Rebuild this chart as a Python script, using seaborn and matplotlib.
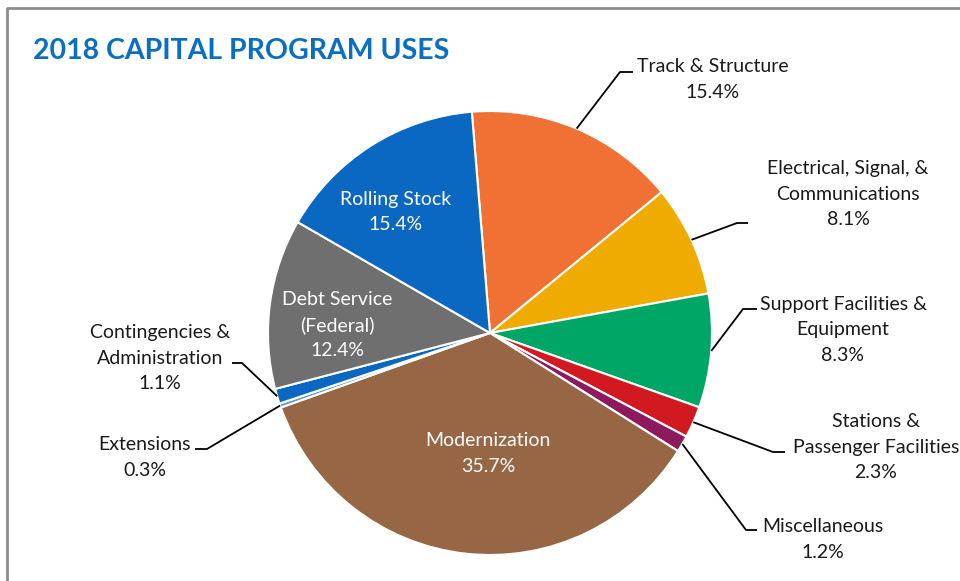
import numpy as np
import matplotlib.pyplot as plt
import seaborn as sns

# 2018 capital program uses (%), clockwise from top
categories = ["Track & Structure", "Electrical, Signal, &\nCommunications",
              "Support Facilities &\nEquipment", "Stations &\nPassenger Facilities",
              "Miscellaneous", "Modernization", "Extensions",
              "Contingencies &\nAdministration", "Debt Service\n(Federal)", "Rolling Stock"]
shares = [15.4, 8.1, 8.3, 2.3, 1.2, 35.7, 0.3, 1.1, 12.4, 15.4]
colors = ["#f07133", "#f0ab00", "#00a665", "#d2191f", "#8e1a5e",
          "#976745", "#5b9bd5", "#0a68c2", "#6f6f6f", "#0a68c2"]

sns.set_theme(style="white")
plt.rcParams['font.family'] = ['Lato', 'DejaVu Sans']

fig = plt.figure(figsize=(9.6, 5.81), dpi=100)
ax = fig.add_axes([0, 0, 1, 1])

H = 581
cx, cy, r = 490, H - 333, 222
wedges, _ = ax.pie(shares, colors=colors, startangle=94.7, counterclock=False,
                   center=(cx, cy), radius=r, frame=True,
                   wedgeprops=dict(edgecolor='white', linewidth=1.5))
ax.set_xlim(0, 960)
ax.set_ylim(0, H)
ax.set_aspect('equal')
ax.axis('off')

txt = '#1a1a1a'
fs = 14


def put_label(i, tx, ty, color):
    lines = f"{categories[i]}\n{shares[i]}%".split('\n')
    for k, line in enumerate(lines):
        ax.text(tx, H - (ty + 1.5 + 25.5 * k), line, ha='center', va='center',
                fontsize=fs, color=color)


# outside labels: (index, elbow, line end, text center x, first line y)
outside = [
    (0, (620, 72), (633, 72), 713, 65),
    (1, (737, 223), (748, 223), 848, 167),
    (2, (743, 309), (757, 309), 843, 303),
    (3, (773, 452), (785, 452), 876, 420),
    (4, (746, 530), (757, 530), 823, 525),
    (6, (207, 449), (195, 449), 145, 443),
    (7, (242, 363), (232, 363), 160, 331),
]
for i, elbow, end, tx, ty in outside:
    w = wedges[i]
    mid = np.deg2rad((w.theta1 + w.theta2) / 2)
    sx, sy = cx + r * np.cos(mid), cy + r * np.sin(mid)
    ax.plot([sx, elbow[0], end[0]], [sy, H - elbow[1], H - end[1]],
            color='black', lw=1.3, solid_capstyle='butt')
    put_label(i, tx, ty, txt)

# inside labels
for i, tx, ty in [(9, 396, 198), (8, 337, 298), (5, 488, 439)]:
    put_label(i, tx, ty, 'white')

ax.text(33, H - 51, "2018 CAPITAL PROGRAM USES", ha='left', va='center',
        fontsize=20.5, fontweight='bold', color='#0a6fc2')

# chart frame
ax.plot([7, 7, 960], [0, H - 8, H - 8], color='#8c8c8c', lw=2, clip_on=False)

fig.savefig('out.png', dpi=100)
